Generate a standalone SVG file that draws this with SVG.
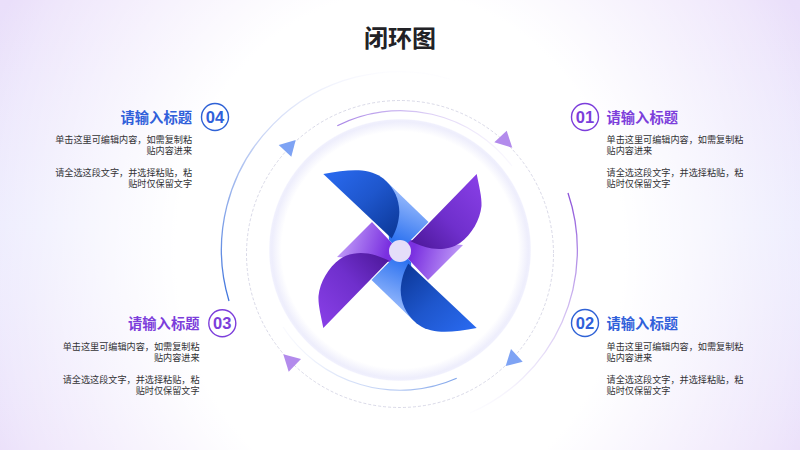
<svg xmlns="http://www.w3.org/2000/svg" width="800" height="450" viewBox="0 0 800 450">
<style>
.ff{font-family:"Liberation Sans","Noto Sans CJK SC",sans-serif}
.t{font-size:14.3px;font-weight:700}
.b{font-size:9.13px;fill:#333336}
.n{font-size:16.500px;font-weight:700;text-anchor:middle}
.r{text-anchor:end}
.pu{fill:#7c3edb}.bl{fill:#3060da}
.cp{fill:none;stroke:#7c3edb;stroke-width:1.4}
.cb{fill:none;stroke:#2f62d6;stroke-width:1.4}
</style>
<defs>
<radialGradient id="bg" cx="0" cy="0" r="1" gradientTransform="translate(.5 .56) scale(.56 1.15)">
<stop offset="0.5" stop-color="#fff" stop-opacity="1"/><stop offset="0.9" stop-color="#fff" stop-opacity="0.25"/><stop offset="1.000" stop-color="#fff" stop-opacity="0"/>
</radialGradient>
<linearGradient id="bg0" x1="0" y1="0" x2="0" y2="1">
<stop offset="0" stop-color="#eadffa"/><stop offset="0.5" stop-color="#e9e8fd"/><stop offset="1" stop-color="#eadffa"/>
</linearGradient>
<radialGradient id="disk" gradientUnits="userSpaceOnUse" cx="400" cy="250" r="131.500">
<stop offset="0.9" stop-color="#fff"/><stop offset="0.975" stop-color="#eeeefc"/><stop offset="0.99" stop-color="#f0f0fd"/><stop offset="1" stop-color="#fff" stop-opacity="0.6"/>
</radialGradient>
<linearGradient id="bb" x1="0" y1="0" x2="1" y2="1"><stop offset="0" stop-color="#2a6bf2"/><stop offset="0.5" stop-color="#1e56cc"/><stop offset="1" stop-color="#0a3594"/></linearGradient>
<linearGradient id="pb" x1="1" y1="0" x2="0" y2="1"><stop offset="0" stop-color="#8a40e8"/><stop offset="0.55" stop-color="#6f2fcc"/><stop offset="1" stop-color="#4a1696"/></linearGradient>
<linearGradient id="bs" gradientUnits="userSpaceOnUse" x1="410" y1="200" x2="392" y2="240"><stop offset="0" stop-color="#8db3fb"/><stop offset="1" stop-color="#2d72f0"/></linearGradient>
<linearGradient id="ps" gradientUnits="userSpaceOnUse" x1="348" y1="236" x2="388" y2="248"><stop offset="0" stop-color="#b88ff5"/><stop offset="1" stop-color="#7a30e0"/></linearGradient>
<linearGradient id="a1" gradientUnits="userSpaceOnUse" x1="565" y1="190" x2="470" y2="413"><stop offset="0" stop-color="#8a4fd8"/><stop offset="1" stop-color="#d8d2f6" stop-opacity="0.05"/></linearGradient>
<linearGradient id="a2" gradientUnits="userSpaceOnUse" x1="229" y1="301" x2="400" y2="75"><stop offset="0" stop-color="#3f74dc"/><stop offset="1" stop-color="#d8d8f8" stop-opacity="0.05"/></linearGradient>
<linearGradient id="a3" gradientUnits="userSpaceOnUse" x1="337" y1="126" x2="512" y2="175"><stop offset="0" stop-color="#a884e6"/><stop offset="1" stop-color="#e8e2fa" stop-opacity="0.2"/></linearGradient>
<linearGradient id="a4" gradientUnits="userSpaceOnUse" x1="457" y1="378" x2="283" y2="330"><stop offset="0" stop-color="#7fa4ea"/><stop offset="1" stop-color="#e2e6fa" stop-opacity="0.2"/></linearGradient>
<path id="blueblade" d="M323.3 174C338 171 352 169.5 362 170.5C372 171.5 380 175 386 181C394 189 399 198 399.3 212C399 222 396 231 391.7 238.5Z" fill="url(#bb)"/>
<path id="purpleblade" d="M476.7 174C479 186 482 197 481.5 206C480 220 472 234 460 243C450 249.5 440 249.5 432 248.5C424 247 417 244 411 241.5Z" fill="url(#pb)"/>
<polygon id="bluestrip" points="386,181 428.5,222 400,251 389,240" fill="url(#bs)"/>
<polygon id="purplestrip" points="372,222 337,257 390,262 400,251 389,240" fill="url(#ps)"/>
</defs>
<rect width="800" height="450" fill="url(#bg0)"/>
<rect width="800" height="450" fill="url(#bg)"/>
<text class="ff" x="400" y="47" font-size="24" font-weight="700" text-anchor="middle" fill="#222226">闭环图</text>
<g id="connectors" fill="none">
<circle cx="400" cy="254" r="153.5" stroke="#c9c9dc" stroke-width="0.7" stroke-dasharray="3 2"/>
<path d="M568 193A177.500 177.500 0 0 1 470 413" stroke="url(#a1)" stroke-width="1.3"/>
<path d="M229 301A178 178 0 0 1 450 79" stroke="url(#a2)" stroke-width="1.3"/>
<path d="M337.300 125.700A140 140 0 0 1 512 166" stroke="url(#a3)" stroke-width="1.2"/>
<path d="M456.700 378.300A140 140 0 0 1 283 327" stroke="url(#a4)" stroke-width="1.2"/>
<polygon points="506.700,130.700 494.300,142.300 512.300,147.700" fill="#b38bec"/>
<polygon points="295.700,140 278.700,145 291.300,156.700" fill="#7ea3f4"/>
<polygon points="283.300,354.300 301,359 288.700,371.700" fill="#b38bec"/>
<polygon points="511,349 522.700,361.700 505.700,366" fill="#7ea3f4"/>
</g>
<g id="pinwheel">
<circle cx="400" cy="250" r="131.500" fill="url(#disk)"/>
<use href="#purplestrip"/>
<use href="#purplestrip" transform="rotate(180 400 251)"/>
<use href="#bluestrip"/>
<use href="#bluestrip" transform="rotate(180 400 251)"/>
<use href="#blueblade"/>
<use href="#blueblade" transform="rotate(180 400 251)"/>
<use href="#purpleblade"/>
<use href="#purpleblade" transform="rotate(180 400 251)"/>
<circle cx="400" cy="251" r="11" fill="#e5def9"/>
</g>
<g id="node-01" class="ff">
<circle class="cp" cx="585" cy="117" r="13.500"/>
<text class="n pu" x="585" y="122.800">01</text>
<text class="t pu" x="606.500" y="122.500">请输入标题</text>
<text class="b" x="606.500" y="143.300">单击这里可编辑内容，如需复制粘</text>
<text class="b" x="606.500" y="154.200">贴内容进来</text>
<text class="b" x="606.500" y="176">请全选这段文字，并选择粘贴，粘</text>
<text class="b" x="606.500" y="187">贴时仅保留文字</text>
</g>
<g id="node-02" class="ff">
<circle class="cb" cx="585" cy="323" r="13.500"/>
<text class="n bl" x="585" y="328.800">02</text>
<text class="t bl" x="606.500" y="329">请输入标题</text>
<text class="b" x="606.500" y="350">单击这里可编辑内容，如需复制粘</text>
<text class="b" x="606.500" y="360.700">贴内容进来</text>
<text class="b" x="606.500" y="382.600">请全选这段文字，并选择粘贴，粘</text>
<text class="b" x="606.500" y="393.500">贴时仅保留文字</text>
</g>
<g id="node-03" class="ff">
<circle class="cp" cx="222.300" cy="323.300" r="13.500"/>
<text class="n pu" x="222.300" y="329">03</text>
<text class="t pu r" x="199.500" y="329">请输入标题</text>
<text class="b r" x="199.500" y="350">单击这里可编辑内容，如需复制粘</text>
<text class="b r" x="199.500" y="360.700">贴内容进来</text>
<text class="b r" x="199.500" y="382.600">请全选这段文字，并选择粘贴，粘</text>
<text class="b r" x="199.500" y="393.500">贴时仅保留文字</text>
</g>
<g id="node-04" class="ff">
<circle class="cb" cx="215" cy="117" r="13.500"/>
<text class="n bl" x="215" y="122.800">04</text>
<text class="t bl r" x="192" y="122.500">请输入标题</text>
<text class="b r" x="192" y="143.300">单击这里可编辑内容，如需复制粘</text>
<text class="b r" x="192" y="154.200">贴内容进来</text>
<text class="b r" x="192" y="176">请全选这段文字，并选择粘贴，粘</text>
<text class="b r" x="192" y="187">贴时仅保留文字</text>
</g>
</svg>
